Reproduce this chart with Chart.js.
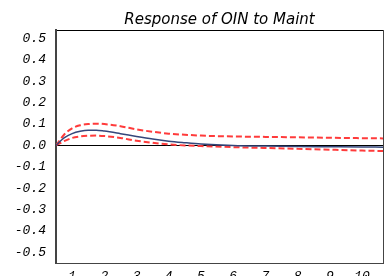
<!DOCTYPE html>
<html>
<head>
  <meta charset="utf-8">
  <title>Response of OIN to Maint</title>
  <script src="https://cdn.jsdelivr.net/npm/chart.js"></script>
  <style>
    body { margin: 0; background: #fff; }
  </style>
</head>
<body>
  <canvas id="irf" width="384" height="276"></canvas>
  <script>
    // horizon (periods) and response values
    const periods  = [0.5, 0.75, 1, 1.25, 1.5, 1.75, 2, 2.5, 3, 3.5, 4, 4.5, 5, 6, 7, 8, 9, 10, 10.65];
    const response = [0, 0.035, 0.055, 0.066, 0.071, 0.071, 0.067, 0.055, 0.042, 0.030, 0.020, 0.013, 0.007, 0.0, -0.003, -0.005, -0.006, -0.007, -0.008];
    const upperBand = [0, 0.05, 0.08, 0.094, 0.1, 0.102, 0.1, 0.09, 0.075, 0.064, 0.055, 0.05, 0.046, 0.042, 0.04, 0.038, 0.036, 0.034, 0.033];
    const lowerBand = [0, 0.02, 0.035, 0.042, 0.045, 0.046, 0.044, 0.035, 0.022, 0.012, 0.005, 0.0, -0.003, -0.008, -0.012, -0.016, -0.02, -0.024, -0.026];
    const xTicks = [1, 2, 3, 4, 5, 6, 7, 8, 9, 10];
    const yTicks = [-0.5, -0.4, -0.3, -0.2, -0.1, 0, 0.1, 0.2, 0.3, 0.4, 0.5];

    const pts = (ys) => periods.map((x, i) => ({ x: x, y: ys[i] }));
    const tickFont = { family: 'Liberation Mono', style: 'italic', size: 13 };

    // no extra room for overhanging tick labels
    const noOverhang = (s) => {
      s.paddingTop = 0; s.paddingBottom = 0;
      s.paddingLeft = 0; s.paddingRight = 0;
    };

    new Chart(document.getElementById('irf'), {
      type: 'line',
      data: {
        datasets: [
          {
            label: 'Response',
            data: pts(response),
            borderColor: '#34467a',
            borderWidth: 1.5,
            pointRadius: 0,
            cubicInterpolationMode: 'monotone',
            order: 0
          },
          {
            label: 'Upper',
            data: pts(upperBand),
            borderColor: '#ff3b3b',
            borderWidth: 2,
            borderDash: [6, 3],
            pointRadius: 0,
            cubicInterpolationMode: 'monotone',
            order: 1
          },
          {
            label: 'Lower',
            data: pts(lowerBand),
            borderColor: '#ff3b3b',
            borderWidth: 2,
            borderDash: [6, 3],
            pointRadius: 0,
            cubicInterpolationMode: 'monotone',
            order: 1
          }
        ]
      },
      options: {
        responsive: false,
        animation: false,
        layout: { padding: 0 },
        plugins: {
          legend: { display: false },
          tooltip: { enabled: false }
        },
        scales: {
          x: {
            type: 'linear',
            position: 'bottom',
            min: 0.5,
            max: 10.65,
            afterBuildTicks: (s) => { s.ticks = xTicks.map(v => ({ value: v })); },
            afterFit: (s) => { s.height = 13; noOverhang(s); },
            ticks: { font: tickFont, color: '#000', padding: -2, maxRotation: 0, callback: (v) => String(v) },
            grid: { display: false },
            border: { display: true, color: '#444', width: 1 }
          },
          top: {
            type: 'linear',
            position: 'top',
            min: 0.5,
            max: 10.65,
            afterFit: (s) => { s.height = 30; noOverhang(s); },
            ticks: { display: false },
            grid: { display: true, drawOnChartArea: false, drawTicks: false, color: 'rgba(0,0,0,0)' },
            border: { display: true, color: '#000', width: 1 },
            title: {
              display: true,
              text: 'Response of OIN to Maint',
              color: '#000',
              font: { family: 'DejaVu Sans', style: 'italic', size: 15 },
              padding: { top: 11, bottom: 0 }
            }
          },
          y: {
            type: 'linear',
            position: 'left',
            min: -0.55,
            max: 0.54,
            afterBuildTicks: (s) => { s.ticks = yTicks.map(v => ({ value: v })); },
            afterFit: (s) => { s.width = 56; noOverhang(s); },
            ticks: { font: tickFont, color: '#000', padding: 10, callback: (v) => v.toFixed(1) },
            grid: {
              drawTicks: false,
              color: (c) => (c.tick && c.tick.value === 0 ? '#000' : 'rgba(0,0,0,0)'),
              lineWidth: 1
            },
            border: { display: true, color: '#444', width: 2 }
          },
          right: {
            type: 'linear',
            position: 'right',
            min: -0.55,
            max: 0.54,
            afterFit: (s) => { s.width = 1; noOverhang(s); },
            ticks: { display: false },
            grid: { display: true, drawOnChartArea: false, drawTicks: false, color: 'rgba(0,0,0,0)' },
            border: { display: true, color: '#444', width: 1 }
          }
        }
      }
    });
  </script>
</body>
</html>
